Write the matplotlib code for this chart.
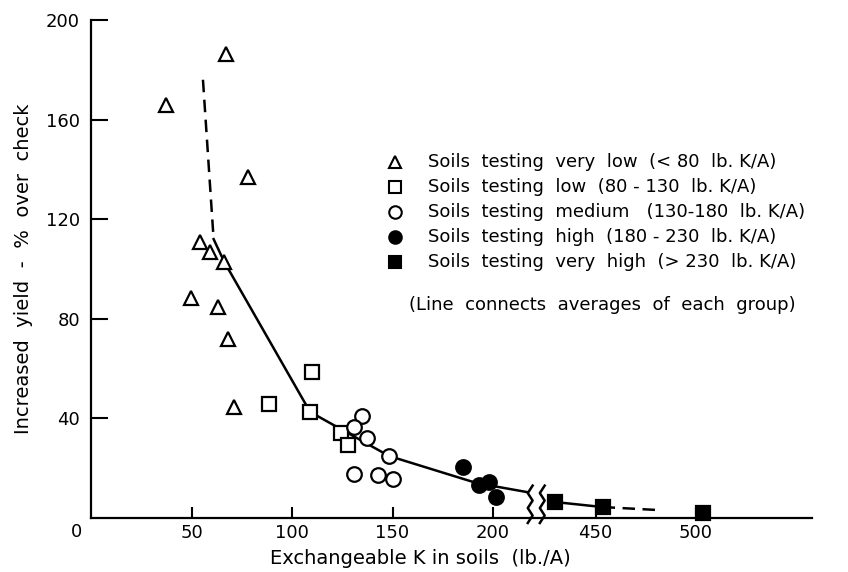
import numpy as np
import matplotlib
matplotlib.use("Agg")
import matplotlib.pyplot as plt

plt.rcParams['font.family'] = 'DejaVu Sans'
plt.rcParams['font.size'] = 13

# Points (x = exchangeable K lb./A, y = % increase over check)
vlow_x = [67.2, 37.3, 78, 54, 59.2, 66.2, 49.8, 63.2, 68.2, 71.1]
vlow_y = [186.3, 166, 137, 111, 107, 103, 88.4, 84.7, 71.9, 44.6]
low_x = [110, 88.6, 109, 124.4, 127.7]
low_y = [58.6, 45.8, 42.6, 34.1, 29.3]
med_x = [134.8, 130.8, 137.4, 148.3, 130.8, 142.8, 150.2]
med_y = [41, 36.5, 32.1, 24.9, 17.7, 17.3, 15.7]
high_x = [185.1, 193, 198, 201.5]
high_y = [20.5, 13.3, 14.5, 8.4]
vhigh_x = [430, 453.5, 503.5]
vhigh_y = [6.4, 4.4, 2.2]

# line through group averages
avg_x = [61, 66.2, 109, 148.3, 192, 217]
avg_y = [112, 103, 42.6, 24.9, 14, 10.4]
dash_top_x = [55.7, 61]
dash_top_y = [176, 112]
avg2_x = [430, 453.5]
avg2_y = [6.4, 4.4]
dash_end_x = [453.5, 481]
dash_end_y = [4.4, 3.2]

xticks = [50, 100, 150, 200, 450, 500]
yticks = [40, 80, 120, 160, 200]

legend_labels = [
    'Soils  testing  very  low  (< 80  lb. K/A)',
    'Soils  testing  low  (80 - 130  lb. K/A)',
    'Soils  testing  medium   (130-180  lb. K/A)',
    'Soils  testing  high  (180 - 230  lb. K/A)',
    'Soils  testing  very  high  (> 230  lb. K/A)',
]
note = '(Line  connects  averages  of  each  group)'

SHIFT = 199  # axis break: values above 300 are drawn shifted left


def bx(vals):
    return [v - SHIFT if v > 300 else v for v in vals]


fig = plt.figure(figsize=(8.48, 5.72), dpi=100)
ax = fig.add_axes([91 / 848, 54 / 572, 721 / 848, 498 / 572])

lw = 1.8
ax.plot(bx(avg_x), avg_y, color='black', lw=lw)
ax.plot(bx(dash_top_x), dash_top_y, color='black', lw=lw, dashes=(5, 3))
ax.plot(bx(avg2_x), avg2_y, color='black', lw=lw)
ax.plot(bx(dash_end_x), dash_end_y, color='black', lw=lw, dashes=(5, 3))

styles = [
    (vlow_x, vlow_y, '^', 'white', 10),
    (low_x, low_y, 's', 'white', 9.5),
    (med_x, med_y, 'o', 'white', 10.5),
    (high_x, high_y, 'o', 'black', 10.5),
    (vhigh_x, vhigh_y, 's', 'black', 9.5),
]
for xs, ys, m, fc, ms in styles:
    ax.plot(bx(xs), ys, linestyle='none', marker=m, ms=ms, mfc=fc,
            mec='black', mew=1.6, zorder=3, clip_on=False)

# axis break marks
for x0 in [218.5, 224.5]:
    zx = np.array([1.2, -1.2, 1.2, -1.2, 1.2, -1.2]) + x0
    zy = [13, 10, 7, 4, 1, -2]
    ax.plot(zx, zy, color='black', lw=1.8, clip_on=False, zorder=4)

ax.set_xlim(0, 358.7)
ax.set_ylim(0, 200)
ax.spines['top'].set_visible(False)
ax.spines['right'].set_visible(False)
ax.spines['left'].set_linewidth(1.6)
ax.spines['bottom'].set_linewidth(1.6)

ax.set_xticks(bx(xticks))
ax.set_xticklabels([str(t) for t in xticks])
ax.set_yticks(yticks)
ax.set_yticklabels([str(t) for t in yticks])
ax.tick_params(axis='x', direction='in', length=8, width=1.5, pad=4)
ax.tick_params(axis='y', direction='in', length=12, width=1.5, pad=8)
fig.text(77 / 848, 1 - 532 / 572, '0', ha='center', va='center')

ax.set_xlabel('Exchangeable K in soils  (lb./A)', fontsize=14)
ax.xaxis.set_label_coords((420 - 91) / 721, -0.062)
ax.set_ylabel('Increased  yield  -  %  over  check', fontsize=14)
ax.yaxis.set_label_coords(-0.08, 0.5)

# legend drawn by hand
mk = [('^', 'white'), ('s', 'white'), ('o', 'white'), ('o', 'black'), ('s', 'black')]
rows = [162, 187, 212, 237, 262]
for (m, fc), lab, py in zip(mk, legend_labels, rows):
    yf = (518 - py) / 498
    ax.plot([(395 - 91) / 721], [yf], marker=m, ms=9, mfc=fc, mec='black',
            mew=1.5, transform=ax.transAxes, clip_on=False)
    ax.text((428 - 91) / 721, yf, lab, transform=ax.transAxes, va='center', ha='left')
ax.text((602 - 91) / 721, (518 - 305) / 498, note, transform=ax.transAxes,
        va='center', ha='center')

fig.savefig('out.png', dpi=100)
